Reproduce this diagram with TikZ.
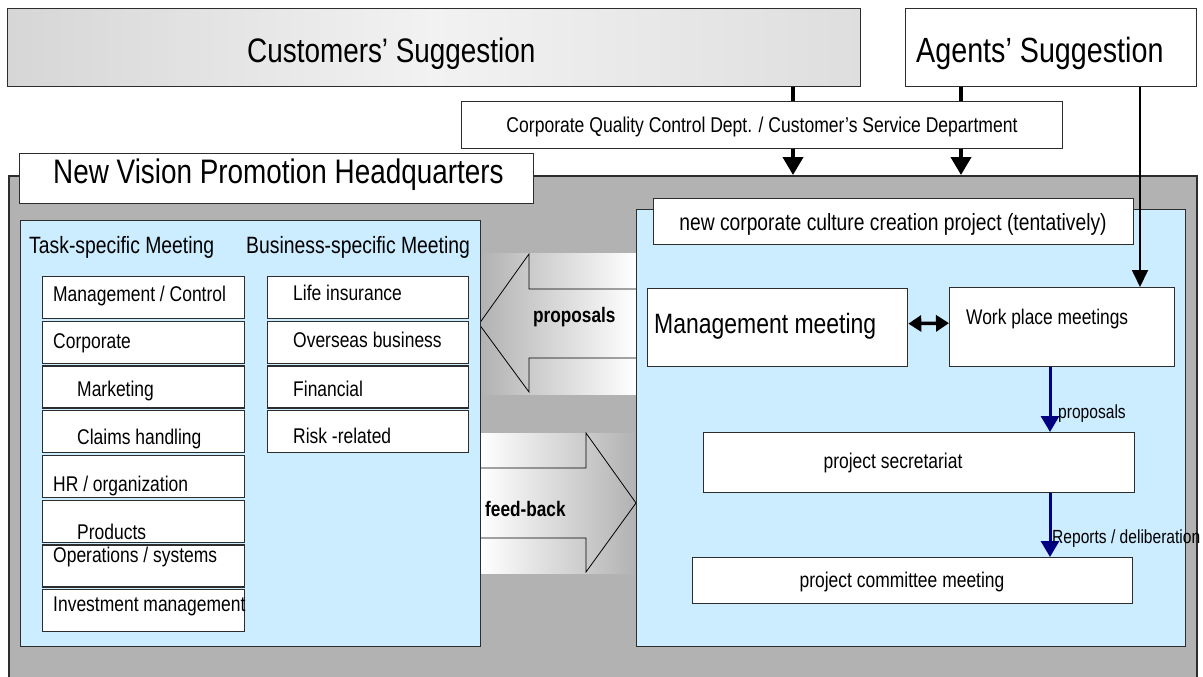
\documentclass[tikz,border=0pt]{standalone}
\usepackage{fontspec}
\setmainfont{Liberation Sans}[FakeStretch=0.82]
\usetikzlibrary{arrows.meta}

\definecolor{hqgray}{RGB}{178,178,178}
\definecolor{panelblue}{RGB}{204,236,255}
\definecolor{edgegray}{RGB}{45,45,45}
\definecolor{navyline}{RGB}{0,0,128}
\definecolor{suggleft}{RGB}{214,214,214}
\definecolor{suggmid}{RGB}{242,242,242}
\definecolor{suggright}{RGB}{222,222,222}

\newcommand{\fsz}[1]{\fontsize{#1}{#1}\selectfont}

\begin{document}
\begin{tikzpicture}[x=1pt, y=-1pt, inner sep=0pt,
		corners/.style 2 args={anchor=north west, minimum width=#1, minimum height=#2},
		box/.style={draw=edgegray, line width=1.3pt, fill=white},
		panel/.style={draw=edgegray, line width=1.4pt, fill=panelblue},
		txt/.style={anchor=base west},
		ctxt/.style={anchor=base},
		bigarrow/.style={draw=black, line width=0.8pt},
		thickline/.style={line width=4pt},
		navyarrow/.style={draw=navyline, line width=3pt, -{Triangle[length=16pt, width=18pt]}}]

		\useasboundingbox[fill=white] (0,0) rectangle (1203,677);

		% headquarters frame with its title tab
		\node[corners={1188}{510}, draw=edgegray, line width=1.8pt, fill=hqgray] (hq) at (8,175) {};
		\node[box, corners={514}{50}] (hqtitle) at (19,153) {};
		\node[txt, font=\fsz{34}] (hqtitle-t) at (53,183) {New Vision Promotion Headquarters};

		% suggestions on top
		\node[box, corners={853}{78}, left color=suggleft, right color=suggright, middle color=suggmid] (cust) at (7,8) {};
		\node[txt, font=\fsz{34}] (cust-t) at (247,63) {Customers' Suggestion};
		\node[box, corners={291}{78}] (agents) at (905,8) {};
		\node[txt, font=\fsz{35}] (agents-t) at (916,63) {Agents' Suggestion};
		\node[box, corners={601}{47}] (cqc) at (461,101) {};
		\node[ctxt, font=\fsz{21.4}] (cqc-t) at (762,132) {Corporate Quality Control Dept. / Customer's Service Department};

		% shaded arrows between the two panels
		\shade[left color=hqgray, right color=white] (480,253) rectangle (636,394);
		\draw[bigarrow] (636,289) -- (529,289) -- (529,254) -- (479,324) -- (529,392) -- (529,358) -- (636,358);
		\shade[left color=white, right color=hqgray] (480,433) rectangle (636,573);
		\draw[bigarrow] (480,468) -- (586,468) -- (586,433) -- (636,503) -- (586,572) -- (586,538) -- (480,538);
		\node[txt, font=\fsz{21}\bfseries] (prop-t) at (533,322) {proposals};
		\node[txt, font=\fsz{21}\bfseries] (fb-t) at (485,516) {feed-back};

		% meetings panel
		\node[panel, corners={460}{426}] (leftpanel) at (20,220) {};
		\node[txt, font=\fsz{23.6}] (task-h) at (29,253) {Task-specific Meeting};
		\node[txt, font=\fsz{23.6}] (biz-h) at (246,253) {Business-specific Meeting};
		\foreach \txt/\dx/\base [count=\i from 0] in {{Management / Control}/11/25, Corporate/11/28, Marketing/35/31,
				{Claims handling}/35/34, {HR / organization}/11/37, Products/35/40,
				{Operations / systems}/11/18, {Investment management}/11/23}
		{
			\node[box, corners={202}{42}] (task\i) at (42,276+44.7*\i) {};
			\node[txt, font=\fsz{21.3}] (task\i-t) at (42+\dx,276+44.7*\i+\base) {\txt};
		}
		\foreach \txt/\base [count=\i from 0] in {{Life insurance}/24, {Overseas business}/27, Financial/31, {Risk -related}/33}
		{
			\node[box, corners={201}{42}] (biz\i) at (267,276+44.7*\i) {};
			\node[txt, font=\fsz{21.3}] (biz\i-t) at (293,276+44.7*\i+\base) {\txt};
		}

		% project panel
		\node[panel, corners={549}{437}] (rightpanel) at (636,209) {};
		\node[box, corners={480}{46}] (newcorp) at (653,198) {};
		\node[ctxt, font=\fsz{23.5}] (newcorp-t) at (893,230) {new corporate culture creation project (tentatively)};
		\node[box, corners={260}{78}] (mgmt) at (647,288) {};
		\node[txt, font=\fsz{28}] (mgmt-t) at (654,333) {Management meeting};
		\node[box, corners={225}{79}] (wp) at (949,287) {};
		\node[txt, font=\fsz{21.2}] (wp-t) at (966,324) {Work place meetings};
		\node[box, corners={431}{60}] (sec) at (703,432) {};
		\node[ctxt, font=\fsz{21.3}] (sec-t) at (893,468) {project secretariat};
		\node[box, corners={440}{46}] (comm) at (692,557) {};
		\node[ctxt, font=\fsz{21.3}] (comm-t) at (902,587) {project committee meeting};

		% connectors
		\coordinate (custdrop) at (793,0);
		\coordinate (agentdrop) at (961,0);
		\coordinate (agentline) at (1140,0);
		\coordinate (secline) at (1050,0);

		\draw[thickline] (cust.south -| custdrop) -- (cqc.north -| custdrop);
		\draw[thickline] (agents.south -| agentdrop) -- (cqc.north -| agentdrop);
		\draw[thickline, -{Triangle[length=18pt, width=20pt]}] (cqc.south -| custdrop) -- (hq.north -| custdrop);
		\draw[thickline, -{Triangle[length=18pt, width=20pt]}] (cqc.south -| agentdrop) -- (hq.north -| agentdrop);
		\draw[line width=1.8pt, -{Triangle[length=17pt, width=16pt]}] (agents.south -| agentline) -- (wp.north -| agentline);
		\draw[line width=3.5pt, {Triangle[length=13pt, width=16pt]}-{Triangle[length=13pt, width=16pt]}]
			([yshift=4pt]mgmt.east) -- ([yshift=4pt]wp.west);
		\draw[navyarrow] (wp.south -| secline) -- (sec.north -| secline);
		\draw[navyarrow] (sec.south -| secline) -- (comm.north -| secline);
		\node[txt, font=\fsz{19}] (secprop-t) at (1058,418) {proposals};
		\node[txt, font=\fsz{19}] (report-t) at (1052,543) {Reports / deliberation};
\end{tikzpicture}
\end{document}
